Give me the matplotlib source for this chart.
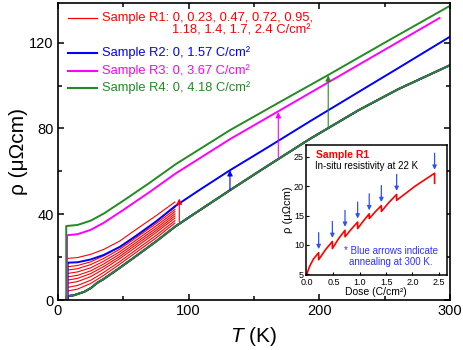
import numpy as np
import matplotlib
matplotlib.use("Agg")
import matplotlib.pyplot as plt
from matplotlib.ticker import MultipleLocator

plt.rcParams['font.family'] = 'Liberation Sans'
plt.rcParams['mathtext.fontset'] = 'custom'
plt.rcParams['mathtext.it'] = 'Liberation Sans:italic'
plt.rcParams['mathtext.rm'] = 'Liberation Sans'

RED = '#ff0000'
BLUE = '#0000ff'
MAGENTA = '#ff00ff'
GREEN = '#228b22'

# pristine curve (all four samples before irradiation)
T_pristine = [7.3, 12, 20, 25, 30, 35, 47, 60, 75, 90, 110, 131.6, 160, 193, 230, 260, 300]
rho_pristine = [1.8, 2.2, 3.8, 5.5, 8.0, 9.8, 14.9, 20.6, 27.3, 34.4, 42.5, 51.2, 62.4, 75.2, 88.5, 98.2, 109.5]

# sample R1, one curve per dose
doses_R1 = [0, 0.23, 0.47, 0.72, 0.95, 1.18, 1.4, 1.7, 2.4]
T_R1 = [7.5, 15, 25, 35, 47, 60, 75, 89.5]
rho_R1 = [
    [4.2, 5.1, 7.7, 11.5, 16.6, 22.3, 28.9, 35.9],
    [5.9, 6.8, 9.2, 12.9, 17.8, 23.5, 30.1, 37.0],
    [7.8, 8.6, 10.9, 14.4, 19.2, 24.8, 31.4, 38.2],
    [9.3, 10.1, 12.3, 15.6, 20.2, 25.9, 32.4, 39.2],
    [10.8, 11.5, 13.6, 16.8, 21.3, 26.9, 33.4, 40.2],
    [12.4, 13.1, 15.0, 18.1, 22.4, 28.0, 34.5, 41.2],
    [14.0, 14.6, 16.5, 19.4, 23.6, 29.1, 35.6, 42.2],
    [15.5, 16.1, 17.8, 20.6, 24.6, 30.2, 36.6, 43.2],
    [19.4, 19.8, 21.3, 23.6, 27.4, 33.0, 39.3, 45.7],
]

# irradiated R2 (1.57 C/cm2)
T_R2 = [7.5, 15, 25, 35, 47.4, 60, 75, 89.5, 110, 131.6, 160, 193, 230, 260, 300]
rho_R2 = [17.4, 17.6, 18.9, 21.0, 24.8, 30.0, 36.6, 43.7, 52.0, 60.5, 71.0, 83.4, 97.0, 108.0, 122.8]

# irradiated R3 (3.67 C/cm2)
T_R3 = [6.9, 15, 25, 35, 50, 70, 90, 131.6, 170, 210, 250, 292]
rho_R3 = [30.2, 30.7, 32.7, 36.0, 42.0, 50.3, 59.0, 75.0, 88.5, 102.6, 116.7, 131.5]

# irradiated R4 (4.18 C/cm2)
T_R4 = [6.4, 15, 25, 35, 50, 70, 90, 131.6, 170, 207, 250, 300]
rho_R4 = [34.5, 35.0, 37.0, 40.3, 46.3, 54.6, 63.3, 79.2, 92.4, 105.0, 120.0, 137.2]

# superconducting transitions
tc = {'R1': 7.0, 'R2': 7.4, 'R3': 6.9, 'R4': 6.3}

# arrows: temperature, start, end
arrow_T = [92.8, 131.6, 168.6, 206.8]
arrow_from = [36.5, 51.2, 66.5, 80.6]
arrow_to = [47.3, 60.5, 87.6, 104.7]
arrow_colors = [RED, BLUE, MAGENTA, GREEN]

# inset: in-situ resistivity at 22 K vs dose
dose_insitu = [0, 0.05, 0.12, 0.22, 0.22, 0.35, 0.48, 0.48, 0.60, 0.72, 0.72, 0.84, 0.96, 0.96,
               1.07, 1.18, 1.18, 1.30, 1.41, 1.41, 1.55, 1.70, 1.70, 2.05, 2.42, 2.42]
rho_insitu = [5.2, 6.4, 7.6, 8.7, 7.5, 9.2, 10.6, 9.4, 11.1, 12.5, 11.4, 12.7, 13.9, 12.8,
              14.1, 15.3, 14.5, 15.7, 16.7, 15.7, 17.2, 18.6, 17.6, 20.0, 22.2, 20.5]
anneal_dose = [0.22, 0.48, 0.72, 0.96, 1.18, 1.41, 1.70, 2.42]
anneal_peak = [8.7, 10.6, 12.5, 13.9, 15.3, 16.7, 18.6, 22.2]


def with_transition(T, rho, t_c):
    return [0, t_c, t_c] + list(T), [0, 0, rho[0]] + list(rho)


fig = plt.figure(figsize=(4.63, 3.5), dpi=100)
ax = fig.add_axes([58 / 463, 50 / 350, 392 / 463, 297 / 350])

for rho in rho_R1:
    x, y = with_transition(T_R1, rho, tc['R1'])
    ax.plot(x, y, color=RED, lw=0.8)

for name, color in [('R1', RED), ('R3', MAGENTA), ('R2', BLUE), ('R4', GREEN)]:
    x, y = with_transition(T_pristine, rho_pristine, tc[name])
    ax.plot(x, y, color=color, lw=1.4)

for T, rho, name, color in [(T_R2, rho_R2, 'R2', BLUE), (T_R3, rho_R3, 'R3', MAGENTA),
                            (T_R4, rho_R4, 'R4', GREEN)]:
    x, y = with_transition(T, rho, tc[name])
    ax.plot(x, y, color=color, lw=1.4)

for t, y0, y1, c in zip(arrow_T, arrow_from, arrow_to, arrow_colors):
    ax.annotate('', xy=(t, y1), xytext=(t, y0),
                arrowprops=dict(arrowstyle='-|>', color=c, lw=0.8,
                                mutation_scale=8, shrinkA=0, shrinkB=0))

ax.set_xlim(0, 300)
ax.set_ylim(0, 138.5)
ax.xaxis.set_major_locator(MultipleLocator(100))
ax.xaxis.set_minor_locator(MultipleLocator(50))
ax.yaxis.set_major_locator(MultipleLocator(40))
ax.yaxis.set_minor_locator(MultipleLocator(20))
ax.tick_params(which='both', direction='in', top=True, right=True, labelsize=10.5, width=1.1)
ax.tick_params(which='major', length=4.5, pad=3)
ax.tick_params(which='minor', length=3)
for s in ax.spines.values():
    s.set_linewidth(1.2)
ax.set_xlabel('$T$ (K)', fontsize=15, labelpad=5)
ax.set_ylabel('ρ (μΩcm)', fontsize=15, labelpad=1)

# legend drawn by hand
leg = [(0.949, RED, 'Sample R1: 0, 0.23, 0.47, 0.72, 0.95,'),
       (0.832, BLUE, 'Sample R2: 0, 1.57 C/cm²'),
       (0.771, MAGENTA, 'Sample R3: 0, 3.67 C/cm²'),
       (0.714, GREEN, 'Sample R4: 0, 4.18 C/cm²')]
for yy, c, lab in leg:
    ax.plot([0.0255, 0.0995], [yy, yy], color=c, lw=0.9 if c == RED else 1.5,
            transform=ax.transAxes)
    ax.text(0.112, yy, lab, color=c, fontsize=9.3, va='center', transform=ax.transAxes)
ax.text(0.291, 0.906, '1.18, 1.4, 1.7, 2.4 C/cm²', color=RED, fontsize=9.3,
        va='center', transform=ax.transAxes)

# inset
axi = fig.add_axes([306 / 463, 75 / 350, 140.7 / 463, 130 / 350])
axi.plot(dose_insitu, rho_insitu, color=RED, lw=1.2)
for d, p in zip(anneal_dose, anneal_peak):
    axi.annotate('', xy=(d, p + 0.6), xytext=(d, p + 3.4),
                 arrowprops=dict(arrowstyle='-|>', color='#3050ff', lw=0.9,
                                 mutation_scale=6, shrinkA=0, shrinkB=0))
axi.set_xlim(-0.02, 2.65)
axi.set_ylim(4.9, 27.0)
axi.xaxis.set_major_locator(MultipleLocator(0.5))
axi.yaxis.set_major_locator(MultipleLocator(5))
axi.tick_params(direction='in', labelsize=6.5, length=2.5, width=0.8)
axi.tick_params(axis='x', pad=2.5)
axi.tick_params(axis='y', pad=1.5)
axi.xaxis.set_major_formatter(matplotlib.ticker.FormatStrFormatter('%.1f'))
for s in axi.spines.values():
    s.set_linewidth(1.1)
axi.set_xlabel('Dose (C/cm²)', fontsize=7.5, labelpad=-0.5)
axi.set_ylabel('ρ (μΩcm)', fontsize=8, labelpad=1)
axi.text(0.069, 0.923, 'Sample R1', color=RED, fontsize=7.5, fontweight='bold',
         va='center', transform=axi.transAxes)
axi.text(0.064, 0.84, 'In-situ resistivity at 22 K', color='black', fontsize=7,
         va='center', transform=axi.transAxes)
axi.text(0.604, 0.14, '* Blue arrows indicate\nannealing at 300 K.', color='#3030ff',
         fontsize=7, ha='center', va='center', linespacing=1.15, transform=axi.transAxes)

fig.savefig('out.png', dpi=100)
